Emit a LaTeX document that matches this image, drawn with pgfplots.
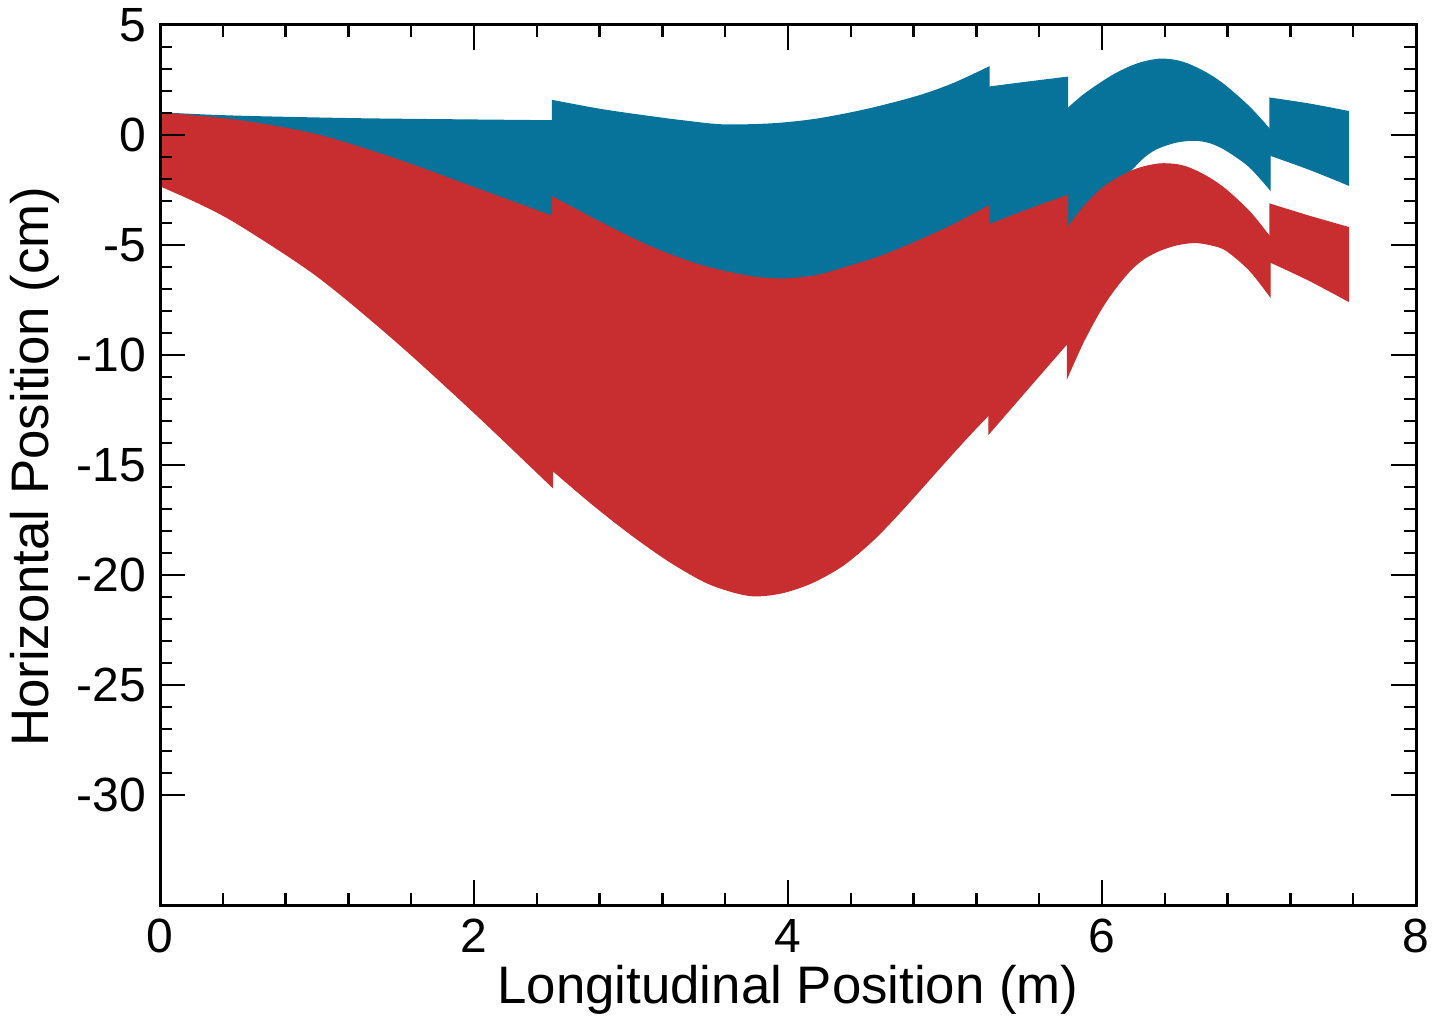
\documentclass[border=0pt]{standalone}
\usepackage{pgfplots}
\pgfplotsset{compat=1.18}
\usepgfplotslibrary{fillbetween}
\usepackage{fontspec}
\setmainfont{Liberation Sans}
\definecolor{beamblue}{RGB}{7,115,154}
\definecolor{beamred}{RGB}{200,46,47}

\begin{document}
\begin{tikzpicture}
\begin{axis}[
    scale only axis,
    width=314pt, height=220pt,
    xmin=0, xmax=8, ymin=-35, ymax=5,
    xtick={0,2,...,8}, ytick={-30,-25,...,5},
    minor x tick num=4, minor y tick num=4,
    major tick length=6.25pt, minor tick length=3pt,
    axis line style={line width=0.75pt},
    tick style={line width=0.6pt, black},
    tick label style={font=\fontsize{12}{14}\selectfont},
    label style={font=\fontsize{13.2}{15}\selectfont},
    /pgf/number format/assume math mode=true,
    xlabel={Longitudinal Position (m)},
    ylabel={Horizontal Position (cm)},
    xlabel style={at={(axis description cs:0.5,-0.0966)}, anchor=center},
    ylabel style={at={(axis description cs:-0.0995,0.498)}, anchor=center},
    axis on top,
    edge/.style={draw=none, smooth},
    bluefill/.style={fill=beamblue, draw=beamblue, line width=0.35pt},
    redfill/.style={fill=beamred, draw=beamred, line width=0.35pt},
]
% ---- blue envelope, one piece per element ----
\addplot[edge, name path=bu1] coordinates {(0,1.0) (0.32,0.89) (0.64,0.82) (1.27,0.73) (1.91,0.68) (2.5,0.64)};
\addplot[edge, name path=bl1] coordinates {(0,-1.0) (1.27,-2.0) (2.5,-5.0)};
\addplot[bluefill] fill between[of=bu1 and bl1];

\addplot[edge, name path=bu2] coordinates {(2.5,1.56) (2.81,1.15) (3.12,0.83) (3.35,0.62) (3.59,0.45) (3.9,0.5) (4.18,0.71) (4.5,1.15) (4.82,1.74) (5.05,2.32) (5.28,3.08)};
\addplot[edge, name path=bl2] coordinates {(2.5,-4.5) (2.81,-5.5) (3.45,-7.5) (3.97,-8.0) (4.39,-7.5) (4.82,-6.5) (5.28,-5.0)};
\addplot[bluefill] fill between[of=bu2 and bl2];

\addplot[edge, name path=bu3] coordinates {(5.28,2.17) (5.53,2.4) (5.78,2.62)};
\addplot[edge, name path=bl3] coordinates {(5.28,-5.5) (5.78,-4.0)};
\addplot[bluefill] fill between[of=bu3 and bl3];

\addplot[edge, name path=bu4] coordinates {(5.78,1.18) (5.88,1.8) (5.99,2.35) (6.08,2.75) (6.18,3.1) (6.27,3.32) (6.37,3.44) (6.47,3.38) (6.56,3.18) (6.68,2.75) (6.79,2.2) (6.94,1.25) (7.07,0.23)};
\addplot[edge, name path=bl4] coordinates {(5.78,-5.5) (5.88,-4.3) (5.99,-3.2) (6.08,-2.35) (6.18,-1.62) (6.27,-0.98) (6.35,-0.61) (6.47,-0.32) (6.59,-0.23) (6.69,-0.35) (6.79,-0.68) (6.94,-1.44) (7.07,-2.47)};
\addplot[bluefill] fill between[of=bu4 and bl4];

\addplot[edge, name path=bu5] coordinates {(7.07,1.67) (7.32,1.4) (7.57,1.06)};
\addplot[edge, name path=bl5] coordinates {(7.07,-0.91) (7.32,-1.55) (7.57,-2.27)};
\addplot[bluefill] fill between[of=bu5 and bl5];

% ---- red envelope ----
\addplot[edge, name path=ru1] coordinates {(0,1.0) (0.5,0.65) (1.0,0.0) (1.5,-1.1) (2.0,-2.4) (2.5,-3.71)};
\addplot[edge, name path=rl1] coordinates {(0,-2.3) (0.25,-3.1) (0.5,-4.05) (1.0,-6.4) (1.5,-9.35) (2.0,-12.6) (2.5,-16.0)};
\addplot[redfill] fill between[of=ru1 and rl1];

\addplot[edge, name path=ru2] coordinates {(2.5,-2.83) (2.81,-4.0) (3.12,-5.08) (3.45,-5.95) (3.76,-6.44) (3.97,-6.55) (4.18,-6.4) (4.39,-5.98) (4.6,-5.5) (4.82,-4.85) (5.05,-4.1) (5.28,-3.23)};
\addplot[edge, name path=rl2] coordinates {(2.5,-15.23) (2.75,-16.75) (3.0,-18.15) (3.25,-19.4) (3.5,-20.4) (3.75,-20.92) (3.95,-20.82) (4.15,-20.35) (4.35,-19.55) (4.55,-18.35) (4.75,-16.85) (4.95,-15.25) (5.14,-13.75) (5.276,-12.73)};
\addplot[redfill] fill between[of=ru2 and rl2];

\addplot[edge, name path=ru3] coordinates {(5.28,-4.09) (5.53,-3.4) (5.78,-2.76)};
\addplot[edge, name path=rl3] coordinates {(5.28,-13.56) (5.53,-11.5) (5.78,-9.45)};
\addplot[redfill] fill between[of=ru3 and rl3];

\addplot[edge, name path=ru4] coordinates {(5.78,-4.24) (5.88,-3.3) (5.99,-2.5) (6.08,-2.05) (6.18,-1.67) (6.27,-1.45) (6.37,-1.32) (6.47,-1.35) (6.56,-1.52) (6.68,-1.95) (6.79,-2.5) (6.94,-3.5) (7.07,-4.65)};
\addplot[edge, name path=rl4] coordinates {(5.78,-10.98) (5.88,-9.4) (5.99,-7.95) (6.08,-7.0) (6.18,-6.14) (6.27,-5.6) (6.37,-5.23) (6.48,-4.98) (6.59,-4.88) (6.69,-4.98) (6.79,-5.23) (6.94,-6.14) (7.07,-7.32)};
\addplot[redfill] fill between[of=ru4 and rl4];

\addplot[edge, name path=ru5] coordinates {(7.07,-3.15) (7.32,-3.7) (7.57,-4.21)};
\addplot[edge, name path=rl5] coordinates {(7.07,-5.76) (7.32,-6.6) (7.57,-7.55)};
\addplot[redfill] fill between[of=ru5 and rl5];

\coordinate (bbsw) at (rel axis cs:-0.1274,-0.1284);
\coordinate (bbne) at (rel axis cs:1.0199,1.0284);
\end{axis}
\pgfresetboundingbox
\useasboundingbox (bbsw) rectangle (bbne);
\end{tikzpicture}
\end{document}
